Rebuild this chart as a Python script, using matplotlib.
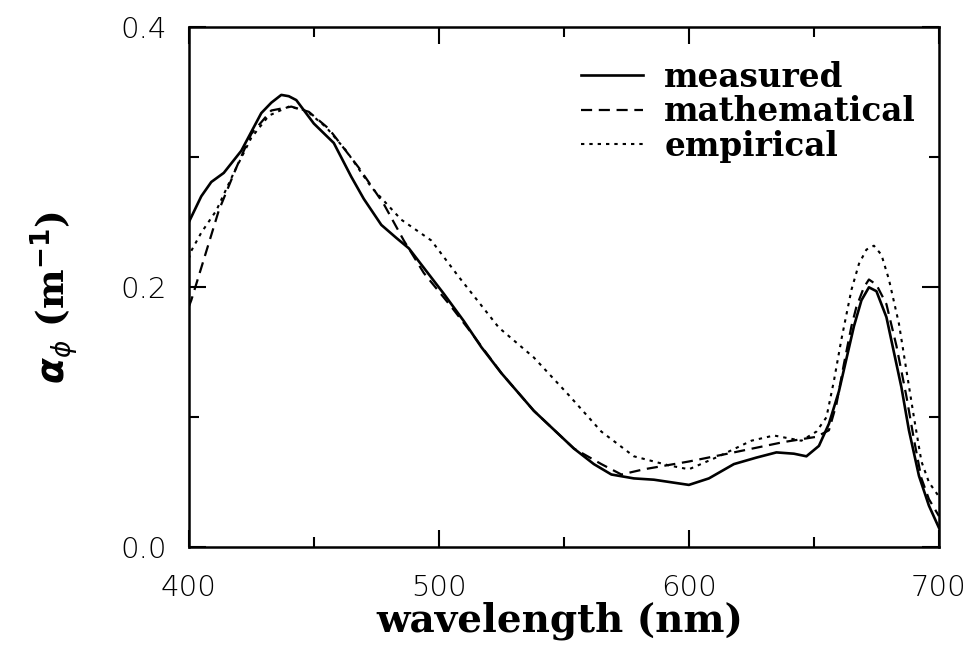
import matplotlib
matplotlib.use("Agg")
import matplotlib.pyplot as plt
from matplotlib.ticker import MultipleLocator

# Phytoplankton absorption spectra
wl_measured = [400, 401, 405, 409, 414, 421, 429, 433, 437, 440, 443, 450, 458, 465,
               470, 477, 483, 488, 494, 502, 510, 517, 525, 538, 554, 562, 569, 578,
               586, 593, 600, 608, 618, 627, 635, 642, 647, 652, 656, 660, 663, 666,
               669, 672, 675, 679, 682, 685, 688, 692, 696, 700]
a_measured = [0.250, 0.254, 0.270, 0.281, 0.288, 0.305, 0.334, 0.342, 0.348, 0.347,
              0.344, 0.326, 0.311, 0.285, 0.268, 0.248, 0.238, 0.230, 0.215, 0.195,
              0.174, 0.154, 0.134, 0.105, 0.076, 0.064, 0.056, 0.053, 0.052, 0.050,
              0.048, 0.053, 0.064, 0.069, 0.073, 0.072, 0.070, 0.078, 0.095, 0.120,
              0.145, 0.170, 0.190, 0.200, 0.197, 0.177, 0.150, 0.123, 0.090, 0.055,
              0.032, 0.015]

wl_math = [400, 401, 405, 412, 419, 425, 433, 441, 448, 456, 468, 478, 486, 494, 505,
           513, 525, 538, 554, 565, 573, 582, 600, 618, 638, 651, 656, 659, 662, 665,
           667, 670, 672, 675, 679, 683, 687, 690, 693, 696, 700]
a_math = [0.185, 0.190, 0.215, 0.259, 0.292, 0.318, 0.336, 0.339, 0.335, 0.322, 0.292,
          0.264, 0.236, 0.211, 0.185, 0.165, 0.134, 0.105, 0.076, 0.064, 0.056, 0.060,
          0.066, 0.073, 0.081, 0.085, 0.090, 0.110, 0.141, 0.170, 0.185, 0.200, 0.206,
          0.202, 0.187, 0.155, 0.116, 0.083, 0.053, 0.037, 0.024]

wl_emp = [400, 401, 405, 411, 418, 425, 432, 440, 447, 455, 463, 473, 485, 497, 508,
          524, 538, 552, 565, 578, 592, 600, 612, 625, 634, 645, 651, 655, 658, 661,
          665, 668, 671, 674, 677, 680, 684, 687, 690, 693, 696, 700]
a_emp = [0.222, 0.228, 0.242, 0.259, 0.288, 0.315, 0.332, 0.339, 0.336, 0.323, 0.305,
         0.277, 0.252, 0.236, 0.208, 0.169, 0.146, 0.117, 0.089, 0.070, 0.063, 0.060,
         0.070, 0.082, 0.086, 0.082, 0.089, 0.100, 0.128, 0.160, 0.198, 0.218, 0.229,
         0.232, 0.225, 0.206, 0.172, 0.136, 0.100, 0.066, 0.050, 0.039]

x_ticks = [400, 500, 600, 700]
y_ticks = [0.0, 0.2, 0.4]

fig = plt.figure(figsize=(9.73, 6.5), dpi=100)
ax = fig.add_axes([0.194, 0.158, 0.771, 0.800])

ax.plot(wl_measured, a_measured, color="black", lw=1.9, ls="-", label="measured")
ax.plot(wl_math, a_math, color="black", lw=1.6, ls=(0, (5, 3)), label="mathematical")
ax.plot(wl_emp, a_emp, color="black", lw=1.5, ls=(0, (1.6, 2.4)), label="empirical")

ax.set_xlim(400, 700)
ax.set_ylim(0.0, 0.4)
ax.set_xticks(x_ticks)
ax.set_yticks(y_ticks)
ax.set_xticklabels([str(t) for t in x_ticks])
ax.set_yticklabels([f"{t:.1f}" for t in y_ticks])
ax.xaxis.set_minor_locator(MultipleLocator(50))
ax.yaxis.set_minor_locator(MultipleLocator(0.1))
ax.tick_params(which="both", direction="in", top=True, right=True, width=1.5)
ax.tick_params(which="major", length=12, labelsize=21)
ax.tick_params(axis="y", which="major", pad=16)
ax.tick_params(axis="x", which="major", pad=19)
ax.tick_params(which="minor", length=7)
for lab in ax.get_xticklabels() + ax.get_yticklabels():
    lab.set_fontfamily("DejaVu Sans")
    lab.set_fontweight("light")
for sp in ax.spines.values():
    sp.set_linewidth(1.8)

ax.set_xlabel("wavelength (nm)", fontsize=28, fontfamily="DejaVu Serif",
              fontweight="bold")
ax.xaxis.set_label_coords(0.495, -0.105)
ax.set_ylabel(r"$\boldsymbol{\alpha}_{\phi}$ (m$^{\mathbf{-1}}$)", fontsize=27,
              fontfamily="DejaVu Serif", fontweight="bold")
ax.yaxis.set_label_coords(-0.143, 0.48)

leg = ax.legend(loc="upper right", frameon=False, handlelength=1.9,
                prop={"family": "DejaVu Serif", "weight": "bold", "size": 23.5},
                bbox_to_anchor=(1.0, 0.98), borderaxespad=0.3,
                labelspacing=0.05, handletextpad=0.65)

fig.savefig("out.png", dpi=100)
